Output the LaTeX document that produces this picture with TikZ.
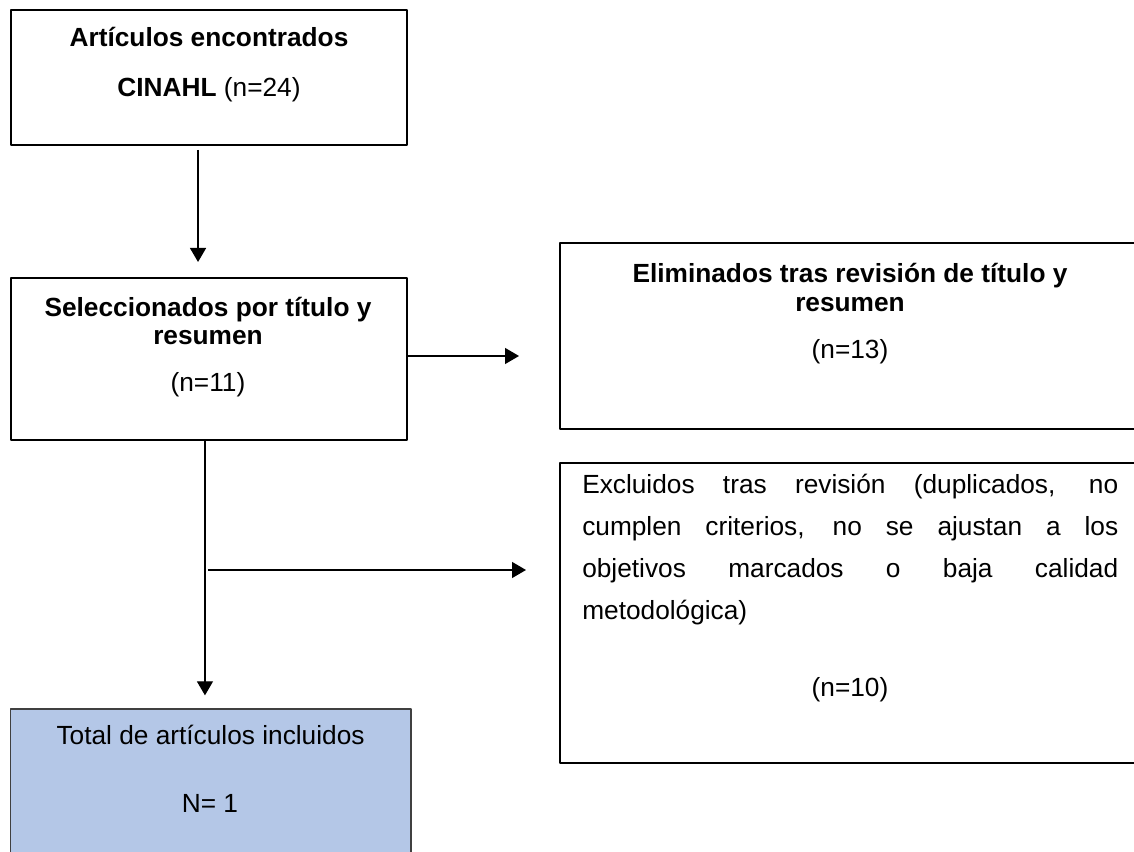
\documentclass[tikz,border=0pt]{standalone}
\usepackage{fontspec}
\setmainfont{Liberation Sans}
\usepackage{xcolor}
\usetikzlibrary{arrows.meta,fit}
\definecolor{totalfill}{RGB}{180,199,231}
\definecolor{totaldraw}{RGB}{64,64,64}

\begin{document}
\begin{tikzpicture}[>={Triangle[length=10.5bp,width=12bp]},line join=bevel,
  box/.style={draw=black,line width=1.5bp,inner sep=0pt},
  flow/.style={->,line width=1bp},
  txt/.style={font=\fontsize{19.7bp}{21.5bp}\selectfont,align=center,inner sep=0pt},
  bold/.style={txt,font=\fontsize{19.7bp}{21.5bp}\selectfont\bfseries}]
  \useasboundingbox (0bp,0bp) rectangle (850.5bp,639bp);
  \clip (0bp,0bp) rectangle (850.5bp,639bp);
%%
  % Node: found
  \node [box,fit={(8bp,530.25bp) (305.25bp,631.5bp)}] (found) {};
  \node [bold] (foundhead) at (156.75bp,611.25bp) {Artículos encontrados};
  \node [txt] (foundnum) at (156.75bp,571.5bp) {\textbf{CINAHL} (n=24)};
  % Node: sel
  \node [box,fit={(8bp,309bp) (305.25bp,430.5bp)}] (sel) {};
  \node [bold] (selhead) at (156bp,398.25bp) {Seleccionados por título y\\resumen};
  \node [txt] (selnum) at (156bp,350.25bp) {(n=11)};
  % Node: elim
  \node [box,fit={(420bp,317.25bp) (855bp,456.75bp)}] (elim) {};
  \node [bold] (elimhead) at (637.5bp,423.4bp) {Eliminados tras revisión de título y\\resumen};
  \node [txt] (elimnum) at (637.5bp,375bp) {(n=13)};
  % Node: excl
  \node [box,fit={(420bp,66.75bp) (855bp,291.75bp)}] (excl) {};
  \node [txt,align=justify,text width=402bp,anchor=north west,
         font=\fontsize{19.7bp}{31.5bp}\selectfont] (excltext) at (436.5bp,283.5bp)
    {Excluidos tras revisión (duplicados, no\linebreak cumplen criterios, no se ajustan a los\linebreak objetivos marcados o baja calidad\linebreak metodológica)};
  \node [txt] (exclnum) at (637.5bp,121.5bp) {(n=10)};
  % Node: total
  \node [box,draw=totaldraw,line width=1bp,fill=totalfill,fit={(8bp,-13.5bp) (308.25bp,107.25bp)}] (total) {};
  \node [txt] (totalhead) at (157.9bp,87.75bp) {Total de artículos incluidos};
  \node [txt] (totalnum) at (157.5bp,36.75bp) {N= 1};
%%
  % Edge: found -> sel
  \draw [flow,shorten <=3bp,shorten >=11.25bp] ([xshift=-8.1bp]found.south) -- ([xshift=-8.1bp]found.south |- sel.north);
  % Edge: sel -> elim
  \draw [flow,shorten >=30bp] ([yshift=2.25bp]sel.east) -- ([yshift=2.25bp]sel.east -| elim.west);
  % Edge: sel -> total
  \draw [flow,shorten >=9.75bp] ([xshift=-2.9bp]sel.south) -- ([xshift=-2.9bp]sel.south |- total.north);
  \coordinate (split) at (153.7bp,211.5bp);
  % Edge: split -> excl
  \draw [flow,shorten <=2.25bp,shorten >=24.75bp] (split) -- (split -| excl.west);
%
\end{tikzpicture}
\end{document}
